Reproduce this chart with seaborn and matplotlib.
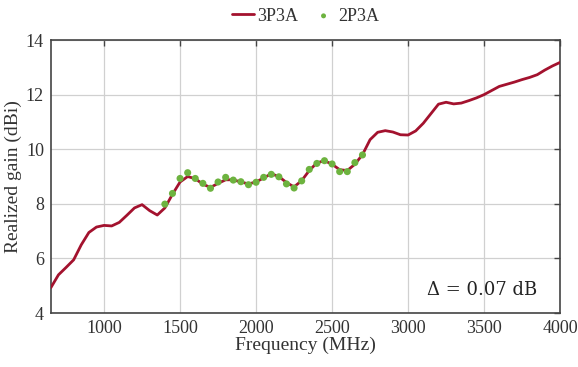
import numpy as np
import pandas as pd
import matplotlib
matplotlib.use("Agg")
import matplotlib.pyplot as plt
import seaborn as sns

# 3P3A (solid line), frequency in MHz, gain in dBi
freq_3p3a = list(range(650, 4001, 50))
gain_3p3a = [4.93, 5.40, 5.67, 5.95, 6.50, 6.95, 7.15, 7.21, 7.19, 7.32,
             7.58, 7.85, 7.97, 7.75, 7.59, 7.85, 8.35, 8.80, 9.00, 8.92,
             8.72, 8.60, 8.75, 8.88, 8.88, 8.80, 8.73, 8.80, 8.95, 9.10,
             9.00, 8.78, 8.62, 8.85, 9.22, 9.50, 9.58, 9.45, 9.25, 9.22,
             9.45, 9.80, 10.35, 10.62, 10.68, 10.63, 10.53, 10.52, 10.67, 10.95,
             11.30, 11.65, 11.72, 11.66, 11.69, 11.78, 11.88, 12.00, 12.15, 12.30,
             12.38, 12.46, 12.55, 12.63, 12.73, 12.90, 13.05, 13.18]

# 2P3A (dots)
freq_2p3a = list(range(1400, 2701, 50))
gain_2p3a = [7.99, 8.38, 8.93, 9.14, 8.93, 8.75, 8.57, 8.80, 8.97, 8.87,
             8.81, 8.70, 8.79, 8.97, 9.08, 8.99, 8.73, 8.58, 8.84, 9.26,
             9.48, 9.58, 9.46, 9.18, 9.18, 9.51, 9.79]

x_ticks = [1000, 1500, 2000, 2500, 3000, 3500, 4000]
y_ticks = [4, 6, 8, 10, 12, 14]
annotation = "Δ = 0.07 dB"

df_line = pd.DataFrame({"f": freq_3p3a, "g": gain_3p3a})
df_dot = pd.DataFrame({"f": freq_2p3a, "g": gain_2p3a})

sns.set_style("white")
plt.rcParams["font.family"] = ["Liberation Serif", "DejaVu Serif"]

fig = plt.figure(figsize=(5.78, 3.67), dpi=100)
ax = fig.add_axes([0.088, 0.147, 0.881, 0.744])

red = "#A3122E"
green = "#6DB33F"

sns.lineplot(data=df_line, x="f", y="g", ax=ax, color=red, linewidth=2.0,
             label="3P3A", zorder=3)
sns.scatterplot(data=df_dot, x="f", y="g", ax=ax, color=green, s=26,
                edgecolor="none", label="2P3A", zorder=4)

ax.set_xlim(650, 4000)
ax.set_ylim(4, 14)
ax.set_xticks(x_ticks)
ax.set_yticks(y_ticks)
ax.grid(True, color="#d0d0d0", linewidth=0.9)
ax.set_axisbelow(True)
for s in ax.spines.values():
    s.set_color("#444444")
    s.set_linewidth(1.2)
ax.tick_params(direction="in", length=4, width=1, color="#444444",
               top=True, right=True, labelsize=13, labelcolor="#333333",
               pad=5)
ax.set_xlabel("Frequency (MHz)", fontsize=14, color="#333333", labelpad=0)
ax.set_ylabel("Realized gain (dBi)", fontsize=14, color="#333333", labelpad=3)

ax.text(0.955, 0.05, annotation, transform=ax.transAxes, ha="right",
        va="bottom", fontsize=13, color="#222222",
        family=["DejaVu Serif"])

leg = ax.legend(loc="lower center", bbox_to_anchor=(0.5, 1.03), ncol=2,
                frameon=False, fontsize=13, handlelength=1.2,
                handletextpad=0.2, columnspacing=0.8, borderaxespad=0,
                markerscale=0.7)
for t in leg.get_texts():
    t.set_color("#333333")

fig.savefig("out.png", dpi=100)
